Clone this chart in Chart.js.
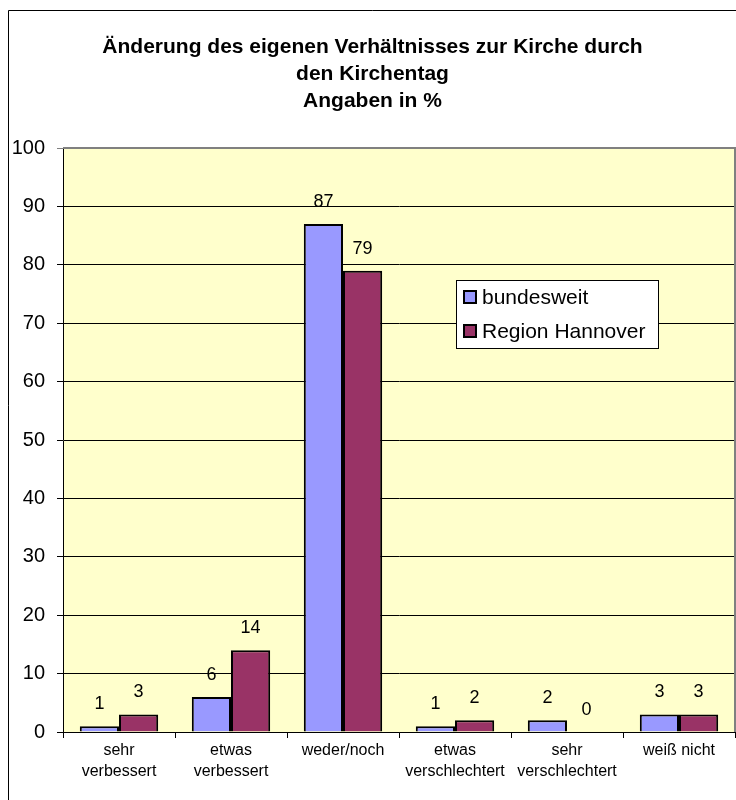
<!DOCTYPE html>
<html>
<head>
<meta charset="utf-8">
<script src="https://cdn.jsdelivr.net/npm/chart.js@4/dist/chart.umd.min.js"></script>
<style>
  html, body { margin: 0; padding: 0; background: #fff; }
  #wrap { width: 736px; height: 800px; }
</style>
</head>
<body>
<div id="wrap"><canvas id="chart" width="736" height="800"></canvas></div>
<script>
/* Data */
const categories = [
  ["sehr", "verbessert"],
  ["etwas", "verbessert"],
  "weder/noch",
  ["etwas", "verschlechtert"],
  ["sehr", "verschlechtert"],
  "weiß nicht"
];
const bundesweit = [1, 6, 87, 1, 2, 3];
const regionHannover = [3, 14, 79, 2, 0, 3];
const yTicks = [0, 10, 20, 30, 40, 50, 60, 70, 80, 90, 100];

const titleLines = [
  "Änderung des eigenen Verhältnisses zur Kirche durch",
  "den Kirchentag",
  "Angaben in %"
];

const FONT = '"Liberation Sans", Arial, sans-serif';

// yellow plot background + outer frame
const backdrop = {
  id: 'backdrop',
  beforeDraw(chart) {
    const { ctx, chartArea: a } = chart;
    ctx.save();
    ctx.fillStyle = '#fff';
    ctx.fillRect(0, 0, chart.width, chart.height);
    ctx.strokeStyle = '#000';
    ctx.lineWidth = 1;
    ctx.beginPath();
    ctx.moveTo(8.5, chart.height + 5);
    ctx.lineTo(8.5, 10.5);
    ctx.lineTo(chart.width + 5, 10.5);
    ctx.stroke();
    ctx.fillStyle = '#FFFFCC';
    ctx.fillRect(a.left, a.top, a.right - a.left, a.bottom - a.top);
    ctx.restore();
  },
  afterDraw(chart) {
    const { ctx, chartArea: a } = chart;
    ctx.save();
    ctx.strokeStyle = '#808080';
    ctx.lineWidth = 2;
    ctx.beginPath();
    ctx.moveTo(a.left, a.top);
    ctx.lineTo(a.right, a.top);
    ctx.lineTo(a.right, a.bottom);
    ctx.stroke();
    ctx.restore();
  }
};

// numbers above the bars
const valueLabels = {
  id: 'valueLabels',
  afterDatasetsDraw(chart) {
    const ctx = chart.ctx;
    ctx.save();
    ctx.font = '18px ' + FONT;
    ctx.fillStyle = '#000';
    ctx.textAlign = 'center';
    ctx.textBaseline = 'middle';
    chart.data.datasets.forEach((ds, i) => {
      chart.getDatasetMeta(i).data.forEach((bar, j) => {
        ctx.fillText(String(ds.data[j]), bar.x, bar.y - 22);
      });
    });
    ctx.restore();
  }
};

// boxed legend inside the plot
const boxLegend = {
  id: 'boxLegend',
  afterDraw(chart) {
    const ctx = chart.ctx;
    const x = 456, y = 280, w = 202, h = 68;
    ctx.save();
    ctx.fillStyle = '#fff';
    ctx.fillRect(x, y, w, h);
    ctx.strokeStyle = '#000';
    ctx.lineWidth = 1;
    ctx.strokeRect(x + 0.5, y + 0.5, w, h);
    ctx.font = '21px ' + FONT;
    ctx.textBaseline = 'middle';
    chart.data.datasets.forEach((ds, i) => {
      const cy = y + 17 + i * 34;
      ctx.fillStyle = ds.backgroundColor;
      ctx.fillRect(x + 8, cy - 6, 12, 12);
      ctx.lineWidth = 2;
      ctx.strokeRect(x + 8, cy - 6, 12, 12);
      ctx.fillStyle = '#000';
      ctx.fillText(ds.label, x + 26, cy + 1);
    });
    ctx.restore();
  }
};

new Chart(document.getElementById('chart'), {
  type: 'bar',
  data: {
    labels: categories,
    datasets: [
      {
        label: 'bundesweit',
        data: bundesweit,
        backgroundColor: '#9999FF',
        borderColor: '#000',
        borderWidth: 2,
        borderSkipped: 'bottom'
      },
      {
        label: 'Region Hannover',
        data: regionHannover,
        backgroundColor: '#993366',
        borderColor: '#000',
        borderWidth: 2,
        borderSkipped: 'bottom'
      }
    ]
  },
  options: {
    responsive: false,
    devicePixelRatio: 1,
    animation: false,
    layout: { padding: { left: 10, right: 1, top: 0, bottom: 0 } },
    datasets: { bar: { categoryPercentage: 0.7, barPercentage: 1.0 } },
    plugins: {
      legend: { display: false },
      tooltip: { enabled: false },
      title: {
        display: true,
        text: titleLines,
        color: '#000',
        font: { family: FONT, size: 21, weight: 'bold', lineHeight: 27 / 21 },
        padding: { top: 34, bottom: 33 }
      }
    },
    scales: {
      x: {
        afterFit(scale) { scale.height = 68; },
        grid: { drawOnChartArea: false, drawTicks: true, tickLength: 6, color: '#000', offset: true },
        border: { color: '#000', width: 1 },
        ticks: {
          color: '#000',
          padding: 2,
          maxRotation: 0,
          autoSkip: false,
          font: { family: FONT, size: 16, lineHeight: 1.3 }
        }
      },
      y: {
        min: 0,
        max: 100,
        afterFit(scale) { scale.width = 53; },
        afterBuildTicks(scale) { scale.ticks = yTicks.map(v => ({ value: v })); },
        grid: {
          color: ctx => (ctx.tick && ctx.tick.value === 100 ? '#808080' : '#000'),
          lineWidth: 1,
          drawTicks: true,
          tickLength: 6
        },
        border: { color: '#000', width: 1 },
        ticks: {
          color: '#000',
          padding: 12,
          font: { family: FONT, size: 20 }
        }
      }
    }
  },
  plugins: [backdrop, valueLabels, boxLegend]
});
</script>
</body>
</html>
